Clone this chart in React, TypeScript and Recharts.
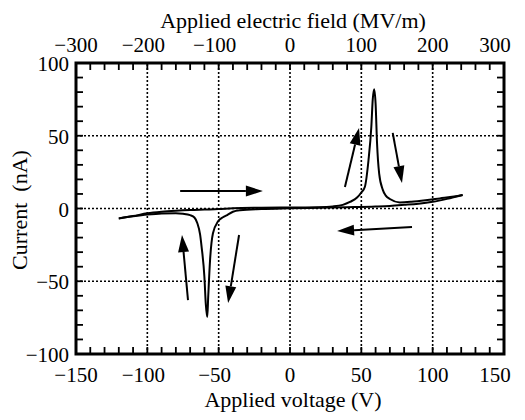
import { LineChart, Line, XAxis, YAxis, ReferenceLine, ReferenceArea } from "recharts";

// sweep towards positive voltage (passes through the positive switching peak)
const upVoltage = [-120, -110, -100, -90, -80, -70, -60, -50, -40, -20, 0, 20, 30, 37, 42, 47, 50, 52.5, 55, 57, 58, 59, 60, 61, 62.5, 65, 67, 70, 77, 85, 95, 105, 115, 121];
const upCurrent = [-6.8, -5.2, -3.3, -2.2, -1.5, -1.0, -0.7, -0.4, 0.2, 0.5, 0.7, 0.9, 1.4, 2.5, 4.5, 7.5, 11, 15, 33, 56, 75, 82, 72, 45, 24, 13, 9, 6.5, 4.2, 4.6, 5.6, 6.9, 8.2, 9.3];

// sweep back towards negative voltage (negative switching peak), sorted by voltage
const downVoltage = [-120, -110, -100, -90, -80, -75, -70, -67, -65, -63, -62, -60, -59, -58, -57.3, -56, -54, -50.5, -47, -44, -40, -35, -20, 0, 20, 40, 60, 70, 80, 90, 100, 110, 121];
const downCurrent = [-6.8, -5.4, -4.2, -3.4, -3.2, -3.6, -4.6, -6.2, -10, -18, -26, -47, -66, -74.6, -60, -35, -17, -9, -6, -4.5, -2.2, -1.2, -0.4, 0.1, 0.5, 0.9, 1.4, 1.8, 2.5, 3.3, 4.6, 6.6, 9.3];

const voltageTicks = [-150, -100, -50, 0, 50, 100, 150];
const fieldTicks = [-300, -200, -100, 0, 100, 200, 300];
const currentTicks = [-100, -50, 0, 50, 100];

// small inward tick marks: every 10 V (= 20 MV/m on the top axis) and every 10 nA
const minorVoltages = Array.from({ length: 29 }, (_, k) => -140 + k * 10);
const minorCurrents = Array.from({ length: 19 }, (_, k) => -90 + k * 10);

const gridVoltages = [-100, -50, 0, 50, 100];
const gridCurrents = [-50, 0, 50];

// direction arrows: [V from, I from, V to, I to]
const arrows = [
    [-77, 12, -19, 12],
    [85.5, -12.7, 33, -15.5],
    [38.5, 14.8, 48.4, 55.3],
    [72, 52, 78.5, 17.5],
    [-71.5, -63, -75.7, -18.2],
    [-35.7, -18.2, -43.4, -65],
];

const upData = upVoltage.map((v, k) => ({ v, i: upCurrent[k] }));
const downData = downVoltage.map((v, k) => ({ v, i: downCurrent[k] }));

const FONT = "Liberation Serif";
const TICK = 7;

const fmt = (v: number) => (v < 0 ? "\u2212" + Math.abs(v) : String(v));

const edgeShift = (v: number, max: number) => (v === max ? -9 : v < 0 && v !== -max ? -4 : 0);

const BottomTick = (props: any) => {
    const { x, y, payload } = props;
    const v = payload.value;
    return (
        <text x={x + edgeShift(v, 150)} y={y + 28} textAnchor="middle" fontSize={21} fill="#000" fontFamily={FONT}>
            {fmt(v)}
        </text>
    );
};

const TopTick = (props: any) => {
    const { x, y, payload } = props;
    const v = payload.value;
    return (
        <text x={x + edgeShift(v, 300)} y={y - 11} textAnchor="middle" fontSize={21} fill="#000" fontFamily={FONT}>
            {fmt(v)}
        </text>
    );
};

const LeftTick = (props: any) => {
    const { x, y, payload } = props;
    return (
        <text x={x - 7} y={y + 8} textAnchor="end" fontSize={21} fill="#000" fontFamily={FONT}>
            {fmt(payload.value)}
        </text>
    );
};

// draws only the two ends of a full-height segment, as inward tick marks
const VerticalTicks = (props: any) => {
    const { x1, y1, x2, y2 } = props;
    const top = Math.min(y1, y2);
    const bottom = Math.max(y1, y2);
    return (
        <g>
            <line x1={x1} y1={top} x2={x1} y2={top + TICK} stroke="#000" strokeWidth={1.8} />
            <line x1={x2} y1={bottom} x2={x2} y2={bottom - TICK} stroke="#000" strokeWidth={1.8} />
        </g>
    );
};

const HorizontalTicks = (props: any) => {
    const { x1, y1, x2, y2 } = props;
    const left = Math.min(x1, x2);
    const right = Math.max(x1, x2);
    return (
        <g>
            <line x1={left} y1={y1} x2={left + TICK} y2={y1} stroke="#000" strokeWidth={1.8} />
            <line x1={right} y1={y2} x2={right - TICK} y2={y2} stroke="#000" strokeWidth={1.8} />
        </g>
    );
};

const ArrowShape = (props: any) => {
    const { x1, y1, x2, y2 } = props;
    const ang = Math.atan2(y2 - y1, x2 - x1);
    const len = 17;
    const half = 5.5;
    const cos = Math.cos(ang);
    const sin = Math.sin(ang);
    const bx = x2 - len * cos;
    const by = y2 - len * sin;
    const pts = `${x2},${y2} ${bx - half * sin},${by + half * cos} ${bx + half * sin},${by - half * cos}`;
    return (
        <g>
            <line x1={x1} y1={y1} x2={bx} y2={by} stroke="#000" strokeWidth={2} />
            <polygon points={pts} fill="#000" />
        </g>
    );
};

const axisTitle = { fontSize: 22, fill: "#000", fontFamily: FONT };

export default function App() {
    return (
        <div style={{ margin: -8, background: "#fff", fontFamily: FONT }}>
            <LineChart width={525} height={420} data={upData} margin={{ top: 0, right: 0, bottom: 0, left: 0 }}>
                <XAxis
                    xAxisId="bottom"
                    type="number"
                    dataKey="v"
                    orientation="bottom"
                    domain={[-150, 150]}
                    ticks={voltageTicks}
                    interval={0}
                    height={66}
                    axisLine={false}
                    tickLine={false}
                    tickSize={0}
                    tickMargin={0}
                    tick={BottomTick}
                    allowDataOverflow
                    label={(p: any) => (
                        <text x={p.viewBox.x + p.viewBox.width / 2 + 3} y={p.viewBox.y + 53} textAnchor="middle" {...axisTitle}>
                            Applied voltage (V)
                        </text>
                    )}
                />
                <XAxis
                    xAxisId="top"
                    type="number"
                    dataKey="v"
                    orientation="top"
                    domain={[-300, 300]}
                    ticks={fieldTicks}
                    interval={0}
                    height={63}
                    axisLine={false}
                    tickLine={false}
                    tickSize={0}
                    tickMargin={0}
                    tick={TopTick}
                    allowDataOverflow
                    label={(p: any) => (
                        <text x={p.viewBox.x + p.viewBox.width / 2 + 3} y={p.viewBox.y + 28} textAnchor="middle" {...axisTitle}>
                            Applied electric field (MV/m)
                        </text>
                    )}
                />
                <YAxis
                    yAxisId="left"
                    type="number"
                    dataKey="i"
                    orientation="left"
                    domain={[-100, 100]}
                    ticks={currentTicks}
                    interval={0}
                    width={76}
                    axisLine={false}
                    tickLine={false}
                    tickSize={0}
                    tickMargin={0}
                    tick={LeftTick}
                    allowDataOverflow
                    label={() => (
                        <text
                            x={27}
                            y={210}
                            transform="rotate(-90, 27, 210)"
                            textAnchor="middle"
                            {...axisTitle}
                            style={{ whiteSpace: "pre" }}
                        >
                            {"Current  (nA)"}
                        </text>
                    )}
                />
                <YAxis
                    yAxisId="right"
                    type="number"
                    dataKey="i"
                    orientation="right"
                    domain={[-100, 100]}
                    width={21}
                    axisLine={false}
                    tickLine={false}
                    tick={false}
                    allowDataOverflow
                />
                {gridVoltages.map((v) => (
                    <ReferenceLine key={"gx" + v} xAxisId="bottom" yAxisId="left" x={v} stroke="#000" strokeWidth={1.6} strokeDasharray="2 2" />
                ))}
                {gridCurrents.map((c) => (
                    <ReferenceLine key={"gy" + c} xAxisId="bottom" yAxisId="left" y={c} stroke="#000" strokeWidth={1.6} strokeDasharray="2 2" />
                ))}
                {minorVoltages.map((v) => (
                    <ReferenceLine
                        key={"tx" + v}
                        xAxisId="bottom"
                        yAxisId="left"
                        segment={[
                            { x: v, y: -100 },
                            { x: v, y: 100 },
                        ]}
                        shape={VerticalTicks}
                    />
                ))}
                {minorCurrents.map((c) => (
                    <ReferenceLine
                        key={"ty" + c}
                        xAxisId="bottom"
                        yAxisId="left"
                        segment={[
                            { x: -150, y: c },
                            { x: 150, y: c },
                        ]}
                        shape={HorizontalTicks}
                    />
                ))}
                <ReferenceArea
                    xAxisId="bottom"
                    yAxisId="left"
                    x1={-150}
                    x2={150}
                    y1={-100}
                    y2={100}
                    fill="none"
                    fillOpacity={0}
                    stroke="#000"
                    strokeWidth={3}
                    strokeOpacity={1}
                />
                <Line
                    xAxisId="bottom"
                    yAxisId="left"
                    data={upData}
                    dataKey="i"
                    type="monotone"
                    stroke="#000"
                    strokeWidth={2}
                    dot={false}
                    isAnimationActive={false}
                />
                <Line
                    xAxisId="bottom"
                    yAxisId="left"
                    data={downData}
                    dataKey="i"
                    type="monotone"
                    stroke="#000"
                    strokeWidth={2}
                    dot={false}
                    isAnimationActive={false}
                />
                {arrows.map((a, k) => (
                    <ReferenceLine
                        key={"ar" + k}
                        xAxisId="bottom"
                        yAxisId="left"
                        segment={[
                            { x: a[0], y: a[1] },
                            { x: a[2], y: a[3] },
                        ]}
                        shape={ArrowShape}
                    />
                ))}
            </LineChart>
        </div>
    );
}
